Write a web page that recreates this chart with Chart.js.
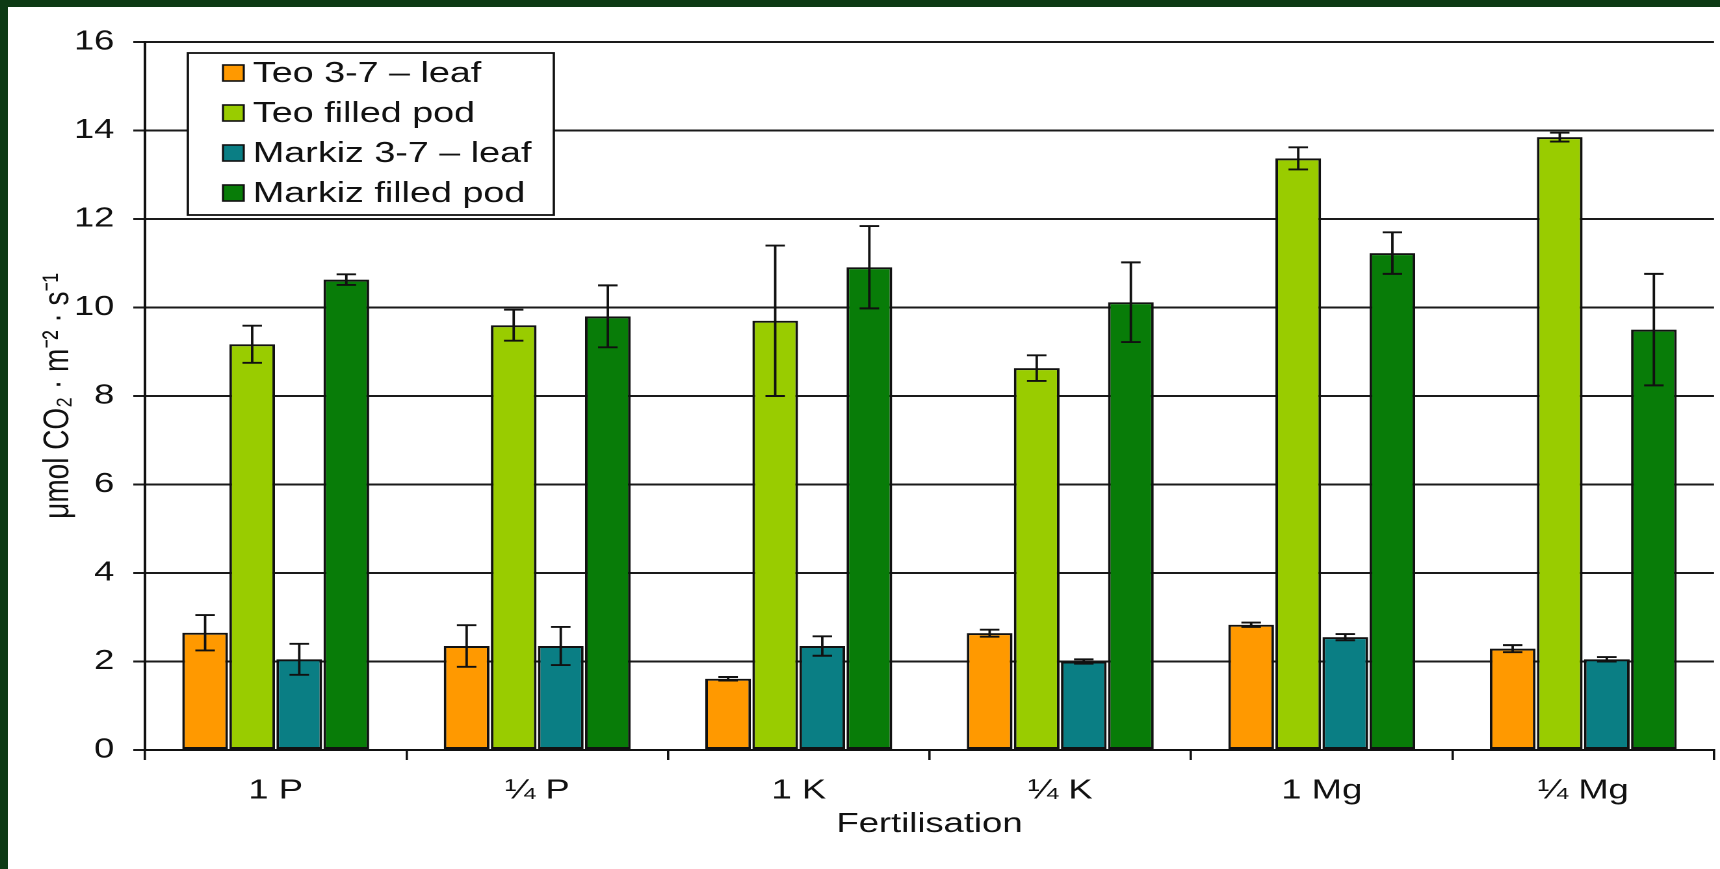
<!DOCTYPE html>
<html>
<head>
<meta charset="utf-8">
<title>Fertilisation</title>
<script src="https://cdn.jsdelivr.net/npm/chart.js@4.4.0/dist/chart.umd.min.js"></script>
<style>
  html, body { margin: 0; padding: 0; }
  body { width: 1720px; height: 869px; background: #0d3a14; position: relative; overflow: hidden; }
  #panel { position: absolute; left: 8px; top: 7px; right: 0; bottom: 0; background: #fff; }
  /* the source picture is stretched sideways, so draw narrow and stretch */
  #wrap { position: absolute; left: 0; top: 0; width: 1323px; height: 869px; transform: scaleX(1.30008); transform-origin: 0 0; }
</style>
</head>
<body>
<div id="panel"></div>
<div id="wrap"><canvas id="chart"></canvas></div>
<script>
const categories = ['1 P', '¼ P', '1 K', '¼ K', '1 Mg', '¼ Mg'];

const teoLeaf      = [2.65, 2.35, 1.61, 2.64, 2.83, 2.29];
const teoLeafErr   = [0.40, 0.47, 0.04, 0.08, 0.05, 0.08];
const teoPod       = [9.17, 9.60, 9.70, 8.63, 13.37, 13.85];
const teoPodErr    = [0.42, 0.35, 1.70, 0.29, 0.25, 0.10];
const markizLeaf   = [2.05, 2.35, 2.35, 2.00, 2.55, 2.05];
const markizLeafErr= [0.35, 0.43, 0.22, 0.05, 0.07, 0.05];
const markizPod    = [10.63, 9.80, 10.91, 10.12, 11.23, 9.50];
const markizPodErr = [0.12, 0.70, 0.93, 0.90, 0.47, 1.26];

const yMin = 0, yMax = 16, yStep = 2;

const FONT = '"Liberation Sans", Arial, sans-serif';
const INK = '#111';

Chart.defaults.font.family = FONT;
Chart.defaults.color = INK;

function makeSet(label, data, errors, color) {
    return {
        label: label,
        data: data,
        errors: errors,
        backgroundColor: color,
        borderColor: INK,
        borderWidth: 2,
        borderSkipped: false,
        categoryPercentage: 0.72,
        barPercentage: 0.97
    };
}

// error bars, drawn over the bars
const errorBars = {
    id: 'errorBars',
    afterDatasetsDraw(chart) {
        const ctx = chart.ctx;
        const y = chart.scales.y;
        ctx.save();
        ctx.strokeStyle = INK;
        ctx.lineWidth = 1.9;
        chart.data.datasets.forEach((ds, i) => {
            chart.getDatasetMeta(i).data.forEach((bar, j) => {
                const top = y.getPixelForValue(ds.data[j] + ds.errors[j]);
                const bot = y.getPixelForValue(ds.data[j] - ds.errors[j]);
                const x = bar.x, w = 7.5;
                ctx.beginPath();
                ctx.moveTo(x, top); ctx.lineTo(x, bot);
                ctx.moveTo(x - w, top); ctx.lineTo(x + w, top);
                ctx.moveTo(x - w, bot); ctx.lineTo(x + w, bot);
                ctx.stroke();
            });
        });
        ctx.restore();
    }
};

// boxed legend inside the plot, like the excel one
const legendBox = {
    id: 'legendBox',
    afterDraw(chart) {
        const ctx = chart.ctx, ca = chart.chartArea;
        const bx = ca.left + 33, by = ca.top + 11, bw = 281.5, bh = 162;
        ctx.save();
        ctx.fillStyle = '#fff';
        ctx.fillRect(bx, by, bw, bh);
        ctx.strokeStyle = INK;
        ctx.lineWidth = 1.8;
        ctx.strokeRect(bx, by, bw, bh);
        ctx.font = '29px ' + FONT;
        ctx.textBaseline = 'middle';
        chart.data.datasets.forEach((ds, i) => {
            const cy = by + 20 + i * 40;
            ctx.fillStyle = ds.backgroundColor;
            ctx.fillRect(bx + 27, cy - 8, 16, 16);
            ctx.lineWidth = 1.6;
            ctx.strokeRect(bx + 27, cy - 8, 16, 16);
            ctx.fillStyle = INK;
            ctx.fillText(ds.label, bx + 50, cy + 1);
        });
        ctx.restore();
    }
};

const config = {
    type: 'bar',
    data: {
        labels: categories,
        datasets: [
            makeSet('Teo 3-7 – leaf', teoLeaf, teoLeafErr, '#FF9900'),
            makeSet('Teo filled pod', teoPod, teoPodErr, '#99CC00'),
            makeSet('Markiz 3-7 – leaf', markizLeaf, markizLeafErr, '#0A7E84'),
            makeSet('Markiz filled pod', markizPod, markizPodErr, '#087C08')
        ]
    },
    options: {
        responsive: true,
        maintainAspectRatio: false,
        animation: false,
        devicePixelRatio: 2,
        layout: { padding: { left: 0, top: 42, right: 4.6, bottom: 0 } },
        plugins: {
            legend: { display: false },
            tooltip: { enabled: false }
        },
        scales: {
            x: {
                grid: { display: true, drawOnChartArea: false, drawTicks: true, tickLength: 10, color: INK, lineWidth: 1.8, offset: true },
                border: { color: INK, width: 2 },
                ticks: { font: { size: 28 }, padding: 14, color: INK },
                title: { display: true, text: 'Fertilisation', font: { size: 28 }, color: INK, padding: { top: 0, bottom: 28 } },
                afterFit: s => { s.height = 119; }
            },
            y: {
                min: yMin,
                max: yMax,
                ticks: { stepSize: yStep, font: { size: 28 }, padding: 14.5, color: INK },
                grid: { color: '#1a1a1a', lineWidth: 2, tickLength: 9 },
                border: { color: INK, width: 2 },
                title: { display: true, text: 'μmol CO₂ · m⁻² · s⁻¹', font: { size: 28 }, color: INK, padding: { top: 28, bottom: 0 } },
                afterFit: s => { s.width = 111.5; }
            }
        }
    },
    plugins: [errorBars, legendBox]
};

new Chart(document.getElementById('chart'), config);
</script>
</body>
</html>
